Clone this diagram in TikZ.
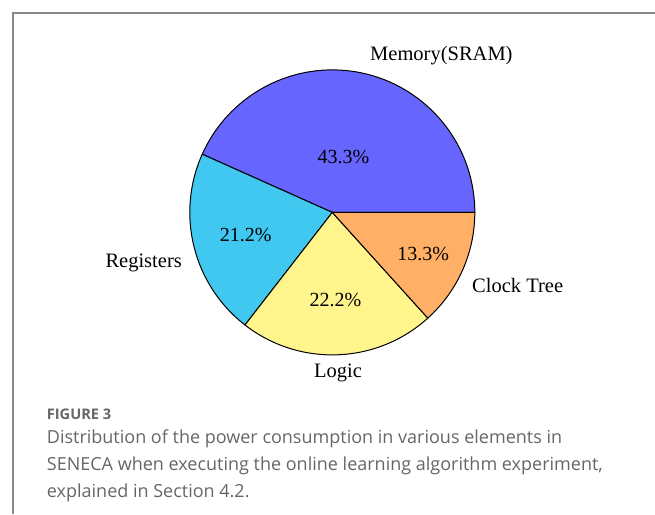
\documentclass[tikz,border=0pt]{standalone}
\usepackage{fontspec}
\setmainfont{Liberation Serif}
\newfontfamily\capfont{Open Sans}
\usepackage{tikz}
\usetikzlibrary{positioning}
\definecolor{memcol}{RGB}{102,102,255}
\definecolor{regcol}{RGB}{64,200,240}
\definecolor{logcol}{RGB}{255,245,140}
\definecolor{clkcol}{RGB}{255,176,102}
\definecolor{capgray}{RGB}{102,102,102}
\definecolor{framegray}{RGB}{136,136,136}
\tikzset{
    sector/.style={ % Tortenstueck
        draw=black,
        line width=1pt,
        line join=round
    },
    lbl/.style={ % Beschriftung aussen
        font=\fontsize{20.5}{24}\selectfont,
        inner sep=0pt
    },
    pct/.style={ % Prozentwerte
        font=\fontsize{20}{24}\selectfont,
        inner sep=0pt,
        anchor=base
    },
    frame/.style={
        draw=framegray,
        line width=2pt
    }
}

\begin{document}
\begin{tikzpicture}[x=1pt, y=1pt]
            \useasboundingbox (-332.3,-301.6) rectangle (322.7,212.4);
            % Rahmen
            \draw[frame] (-319.3,-301.6) -- (-319.3,199.4) -- (322.7,199.4);
            % Torte
            \coordinate (mitte) at (0,0);
            \filldraw[sector, fill=memcol] (mitte) -- (0:142.5)
                    arc[start angle=0, end angle=155.9, radius=142.5] -- cycle;
            \filldraw[sector, fill=regcol] (mitte) -- (155.9:142.5)
                    arc[start angle=155.9, end angle=232.2, radius=142.5] -- cycle;
            \filldraw[sector, fill=logcol] (mitte) -- (232.2:142.5)
                    arc[start angle=232.2, end angle=312.1, radius=142.5] -- cycle;
            \filldraw[sector, fill=clkcol] (mitte) -- (312.1:142.5)
                    arc[start angle=312.1, end angle=360, radius=142.5] -- cycle;
            % Prozentwerte
            \node[pct] (pmem) at (11.2,49)    {43.3\%};
            \node[pct] (preg) at (-86.6,-28.6) {21.2\%};
            \node[pct] (plog) at (3.2,-94.3)  {22.2\%};
            \node[pct] (pclk) at (91,-48.3)   {13.3\%};
            % Beschriftungen
            \node[lbl, anchor=base west] (mem) at (37.7,151.4)   {Memory(SRAM)};
            \node[lbl, anchor=base east] (reg) at (-150.3,-55.3) {Registers};
            \node[lbl, anchor=base]      (log) at (5.7,-164.9)   {Logic};
            \node[lbl, anchor=base west] (clk) at (139.7,-79.9)  {Clock Tree};
            % Bildunterschrift
            \node[anchor=base west, inner sep=0pt, text=capgray,
                  font=\capfont\bfseries\fontsize{14.6}{17}\selectfont]
                    (fig) at (-285.6,-206.9) {FIGURE 3};
            \node[anchor=base west, inner sep=0pt, text=capgray, align=left,
                  font=\capfont\fontsize{18}{27}\selectfont]
                    (cap) at (-285.6,-284.9)
                    {Distribution of the power consumption in various elements in\\
                     SENECA when executing the online learning algorithm experiment,\\
                     explained in Section 4.2.};
\end{tikzpicture}
\end{document}
